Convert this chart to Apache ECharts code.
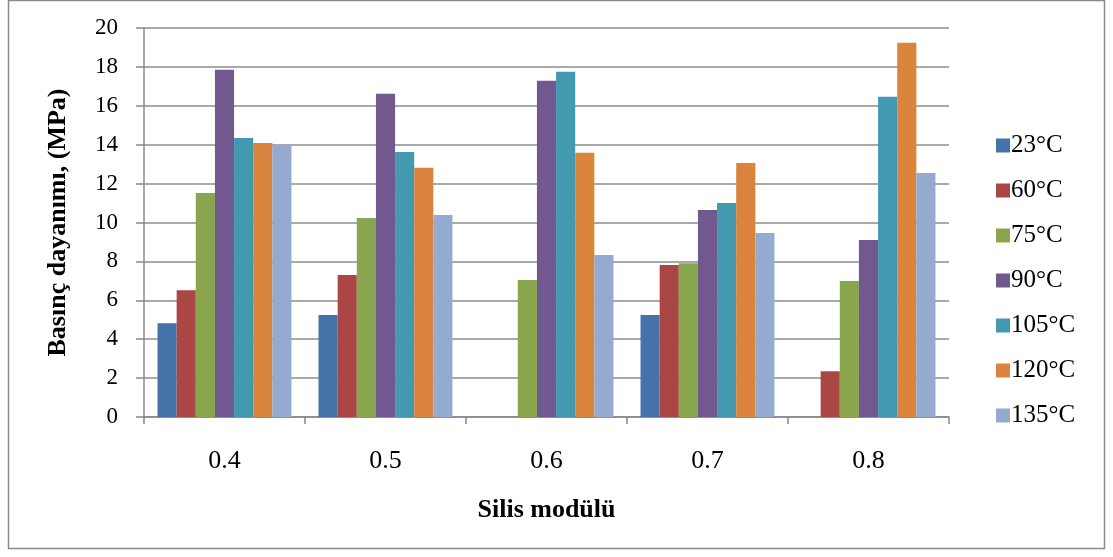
<!DOCTYPE html>
<html>
<head>
<meta charset="utf-8">
<script src="https://cdn.jsdelivr.net/npm/echarts@6/dist/echarts.min.js"></script>
<style>
  html, body { margin: 0; padding: 0; background: #ffffff; }
  #chart { width: 1113px; height: 557px; }
</style>
</head>
<body>
<div id="chart"></div>
<script>
// Silis modülü values on the category axis
const categories = ['0.4', '0.5', '0.6', '0.7', '0.8'];

// Curing temperatures (legend entries)
const seriesNames = ['23°C', '60°C', '75°C', '90°C', '105°C', '120°C', '135°C'];

// Basınç dayanımı (MPa) for each temperature, per silis modülü
const t23  = [4.82, 5.24, null, 5.24, null];
const t60  = [6.52, 7.30, null, 7.81, 2.35];
const t75  = [11.52, 10.23, 7.04, 7.91, 6.99];
const t90  = [17.85, 16.62, 17.29, 10.64, 9.10];
const t105 = [14.35, 13.63, 17.75, 11.00, 16.46];
const t120 = [14.09, 12.81, 13.58, 13.06, 19.24];
const t135 = [13.96, 10.39, 8.33, 9.46, 12.55];

const seriesValues = [t23, t60, t75, t90, t105, t120, t135];

const colors = ['#4572a8', '#aa4644', '#89a54e', '#71588f', '#4399b0', '#db843d', '#94aad0'];

const FONT = "'Liberation Serif', 'Times New Roman', serif";

const chart = echarts.init(document.getElementById('chart'), null, { renderer: 'canvas' });

chart.setOption({
  animation: false,
  backgroundColor: '#ffffff',
  color: colors,
  textStyle: { fontFamily: FONT, color: '#000000' },
  graphic: [{
    type: 'rect',
    shape: { x: 8.5, y: 0.5, width: 1096, height: 548 },
    style: { fill: 'none', stroke: '#8a8a8a', lineWidth: 1.5 },
    silent: true
  }],
  grid: { left: 144, right: 164, top: 28, bottom: 140, containLabel: false },
  legend: {
    orient: 'vertical',
    left: 991,
    top: 128,
    itemWidth: 14,
    itemHeight: 14,
    itemGap: 20,
    icon: 'rect',
    data: seriesNames,
    textStyle: { fontFamily: FONT, fontSize: 25, color: '#000000', padding: [0, 0, 0, -4] }
  },
  xAxis: {
    type: 'category',
    data: categories,
    name: 'Silis modülü',
    nameLocation: 'middle',
    nameGap: 80,
    nameTextStyle: { fontFamily: FONT, fontSize: 26, fontWeight: 'bold', color: '#000000' },
    axisLine: { show: true, lineStyle: { color: '#888888', width: 1.5 } },
    axisTick: { show: true, length: 7, alignWithLabel: false, lineStyle: { color: '#888888', width: 1.5 } },
    axisLabel: { fontFamily: FONT, fontSize: 26, color: '#000000', margin: 31 },
    splitLine: { show: false }
  },
  yAxis: {
    type: 'value',
    min: 0,
    max: 20,
    interval: 2,
    name: 'Basınç dayanımı, (MPa)',
    nameLocation: 'middle',
    nameRotate: 90,
    nameGap: 73,
    nameTextStyle: { fontFamily: FONT, fontSize: 26, fontWeight: 'bold', color: '#000000' },
    axisLine: { show: true, lineStyle: { color: '#888888', width: 1.5 } },
    axisTick: { show: true, length: 8, inside: false, lineStyle: { color: '#888888', width: 1.5 } },
    axisLabel: { fontFamily: FONT, fontSize: 23, color: '#000000', margin: 26 },
    splitLine: { show: true, lineStyle: { color: '#8c8c8c', width: 1.5 } }
  },
  series: seriesNames.map((name, i) => ({
    name: name,
    type: 'bar',
    data: seriesValues[i],
    barGap: '0%',
    barCategoryGap: '16.8%',
    itemStyle: { color: colors[i] }
  }))
});
</script>
</body>
</html>
